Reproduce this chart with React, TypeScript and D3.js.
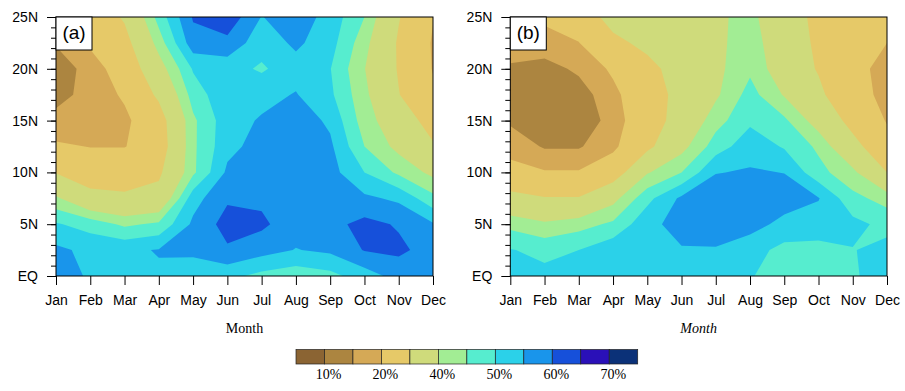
import * as d3 from "d3";
import { useEffect, useRef } from "react";

const months = ["Jan", "Feb", "Mar", "Apr", "May", "Jun", "Jul", "Aug", "Sep", "Oct", "Nov", "Dec"];
// grid rows, north to south
const latRows = [25, 22.5, 20, 17.5, 15, 12.5, 10, 7.5, 5, 2.5, 0];
const latTicks = [0, 5, 10, 15, 20, 25];
const levels = [10, 15, 20, 30, 40, 45, 50, 55, 60, 65, 70];
const palette = [
  "#8b6433", "#ac8540", "#d5a956", "#e6c968", "#cfdb7b", "#a2ed94",
  "#56edcf", "#2bd1e9", "#1995eb", "#1650da", "#2a10b8", "#0b3178",
];
const barLabels = ["10%", "", "20%", "", "40%", "", "50%", "", "60%", "", "70%"];

// percent values, rows follow latRows, columns follow months
const panelA = [
  [17, 24, 31, 47, 60.5, 63.5, 54.8, 58, 53, 45, 30.5, 20.3],
  [15.5, 21, 27, 42.3, 58, 58.5, 52, 56, 52, 42, 29, 19.3],
  [12, 17, 23.7, 37, 50.5, 52, 49.3, 53, 50.2, 40.2, 29.3, 19.6],
  [14, 16, 21, 31.6, 47.2, 53.9, 53.5, 55.3, 51, 41.5, 30.3, 21.5],
  [15.9, 17, 18.5, 26, 44, 53, 55.5, 58, 54, 42.5, 35.5, 26],
  [21, 19.8, 19.7, 25, 44, 53.5, 57, 58.5, 56, 45, 38.3, 31],
  [29.65, 25, 27, 28.5, 44, 56, 58.5, 59, 57, 50, 44, 38.5],
  [41, 33, 31, 33, 53, 59.3, 59, 58.5, 57.5, 56, 54, 46.5],
  [50.5, 48, 44, 46, 56, 62, 61, 57, 58.5, 61.5, 59.5, 55.5],
  [56.1, 53.7, 54, 55.3, 56.5, 59.3, 57, 54.8, 56, 60.3, 61, 58],
  [58, 54.2, 53.5, 54.3, 51, 51.5, 48.5, 47, 48.5, 52.5, 57, 57],
];

const panelB = [
  [18, 21, 24, 33.7, 36, 37.5, 38.5, 42.5, 32, 29, 25, 22.5],
  [16.5, 18, 19.8, 27.5, 32.5, 36, 38.5, 43, 35, 28.5, 24, 20],
  [14.6, 13, 16, 21, 27, 34.5, 38.5, 44, 36, 29.3, 24, 16],
  [11.5, 11, 12.5, 18.5, 25, 33.2, 39, 47, 39.5, 32, 22, 18.7],
  [14.2, 11, 11.5, 17, 25.5, 33.7, 43, 49, 46, 37, 27, 19.5],
  [18, 14.5, 14.5, 18.5, 28, 38, 47.5, 53, 49.5, 44, 33, 23],
  [22, 20.5, 20.5, 25, 39.5, 45, 54.8, 55.5, 54.9, 46.7, 41.5, 30],
  [33, 30.5, 30.5, 38, 48.5, 56, 58, 58, 57.5, 55.3, 46.5, 43],
  [43.5, 41, 43, 46, 53.5, 57, 58.5, 57, 53.5, 52.5, 51.5, 48.5],
  [50.3, 48.5, 50, 53.5, 54, 54.6, 54.5, 52, 48.5, 48.5, 49.8, 51.5],
  [52, 51.5, 52, 53, 53, 52, 52, 50.3, 48, 47.5, 49.5, 52],
];

const sans = "'Liberation Sans', Arial, Helvetica, sans-serif";
const serif = "'Liberation Serif', 'Times New Roman', serif";

const App = () => {
  const chartRef = useRef(null);

  useEffect(() => {
    const svg = d3.select(chartRef.current);
    svg.selectAll("*").remove();

    const top = 17, bottom = 276;
    const panels = [
      { data: panelA, left: 56, right: 433, tag: "(a)", italic: false },
      { data: panelB, left: 510.3, right: 887, tag: "(b)", italic: true },
    ];

    const defs = svg.append("defs");

    panels.forEach((p, pi) => {
      const g = svg.append("g");
      const x = d3.scaleLinear().domain([0, months.length - 1]).range([p.left, p.right]);
      const y = d3.scaleLinear().domain([0, 25]).range([bottom, top]);
      // d3.contours puts value i at i + 0.5
      const gx = d3.scaleLinear().domain([0.5, months.length - 0.5]).range([p.left, p.right]);
      const gy = d3.scaleLinear().domain([0.5, latRows.length - 0.5]).range([y(latRows[0]), y(latRows[latRows.length - 1])]);

      const contours = d3.contours()
        .size([months.length, latRows.length])
        .thresholds(levels)(p.data.flat());

      const proj = d3.geoTransform({
        point: function (px, py) { this.stream.point(gx(px), gy(py)); },
      });
      const path = d3.geoPath(proj);

      defs.append("clipPath").attr("id", "clip" + pi)
        .append("rect")
        .attr("x", p.left).attr("y", top)
        .attr("width", p.right - p.left).attr("height", bottom - top);

      const fill = g.append("g").attr("clip-path", `url(#clip${pi})`);
      fill.append("rect")
        .attr("x", p.left).attr("y", top)
        .attr("width", p.right - p.left).attr("height", bottom - top)
        .attr("fill", palette[0]);
      fill.selectAll("path")
        .data(contours)
        .enter()
        .append("path")
        .attr("d", d => path(d))
        .attr("fill", (d, k) => palette[k + 1])
        .attr("stroke", "none");

      // axes
      const xAxis = d3.axisBottom(x)
        .tickValues(d3.range(months.length))
        .tickFormat(i => months[i])
        .tickSize(9).tickPadding(10);
      const xg = g.append("g").attr("transform", `translate(0,${bottom})`).call(xAxis);

      const yMinor = d3.axisLeft(y).tickValues(d3.range(0, 26)).tickFormat(() => "").tickSize(5);
      const ymg = g.append("g").attr("transform", `translate(${p.left},0)`).call(yMinor);

      const yAxis = d3.axisLeft(y)
        .tickValues(latTicks)
        .tickFormat(d => (d === 0 ? "EQ" : d + "N"))
        .tickSize(9).tickPadding(9);
      const yg = g.append("g").attr("transform", `translate(${p.left},0)`).call(yAxis);

      [xg, ymg, yg].forEach(a => {
        a.select(".domain").remove();
        a.selectAll("line").attr("stroke", "#000").attr("stroke-width", 1);
        a.selectAll("text").attr("fill", "#000")
          .style("font-family", sans).style("font-size", "14px");
      });

      g.append("rect")
        .attr("x", p.left).attr("y", top)
        .attr("width", p.right - p.left).attr("height", bottom - top)
        .attr("fill", "none").attr("stroke", "#000").attr("stroke-width", 1);

      // panel tag
      g.append("rect")
        .attr("x", p.left).attr("y", top)
        .attr("width", 36).attr("height", 33)
        .attr("fill", "#fff").attr("stroke", "#000").attr("stroke-width", 1);
      g.append("text")
        .attr("x", p.left + 18).attr("y", top + 22)
        .attr("text-anchor", "middle")
        .style("font-family", sans).style("font-size", "19px")
        .text(p.tag);

      g.append("text")
        .attr("x", (p.left + p.right) / 2).attr("y", 333)
        .attr("text-anchor", "middle")
        .style("font-family", serif).style("font-size", "14px")
        .style("font-style", p.italic ? "italic" : "normal")
        .text("Month");
    });

    // colour bar
    const cb = d3.scaleLinear().domain([0, palette.length]).range([296, 637.7]);
    const bar = svg.append("g");
    bar.selectAll("rect")
      .data(palette)
      .enter()
      .append("rect")
      .attr("x", (d, i) => cb(i))
      .attr("y", 349.5)
      .attr("width", cb(1) - cb(0))
      .attr("height", 14.5)
      .attr("fill", d => d)
      .attr("stroke", "#222")
      .attr("stroke-width", 0.7);
    bar.selectAll("text")
      .data(barLabels)
      .enter()
      .append("text")
      .attr("x", (d, k) => cb(k + 1) + 4)
      .attr("y", 379)
      .attr("text-anchor", "middle")
      .style("font-family", serif).style("font-size", "14px")
      .text(d => d);
  }, []);

  return (
    <svg ref={chartRef} width={905} height={391}
      style={{ position: "absolute", left: 0, top: 0, background: "#fff" }}></svg>
  );
};

export default App;
